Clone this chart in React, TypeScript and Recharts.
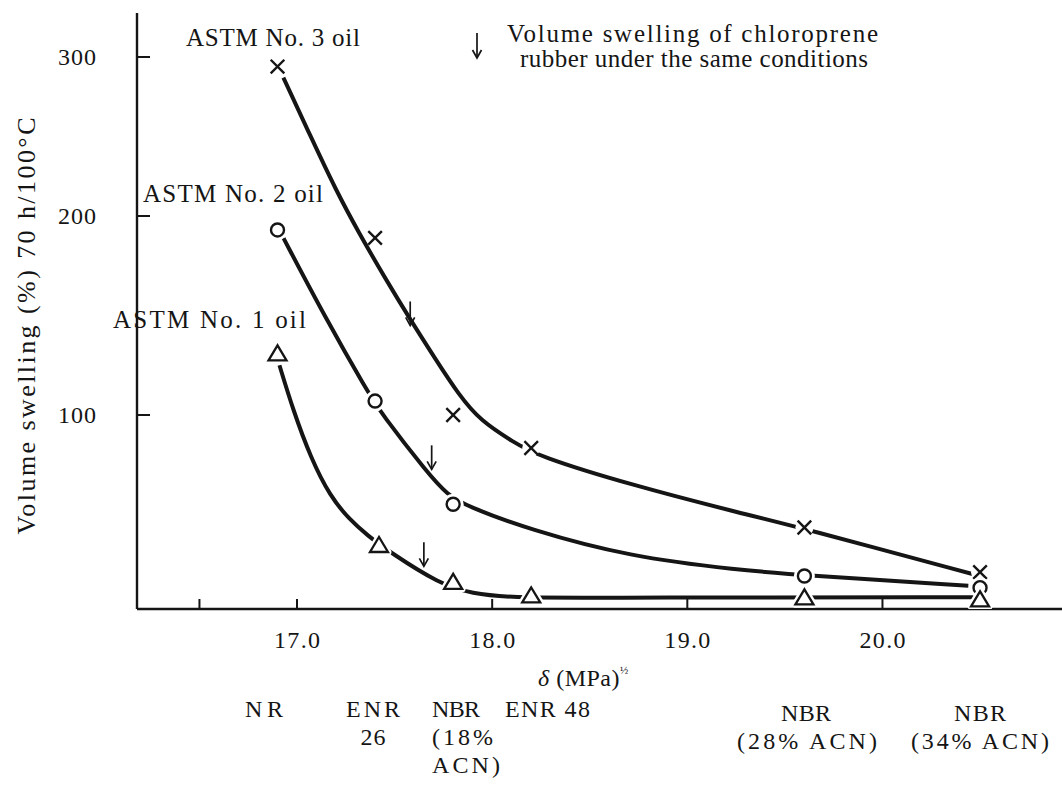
import React from 'react';
import { ComposedChart, Line, Scatter, XAxis, YAxis } from 'recharts';

const INK = '#151515';
const FONT = '"Liberation Serif", "Times New Roman", serif';

// ---- measured points (delta in MPa^1/2, volume swelling in %) ----
const DELTA_OIL3 = [16.9, 17.4, 17.8, 18.2, 19.6, 20.5];
const SWELL_OIL3 = [294, 189, 100, 83, 42, 19];
const DELTA_OIL2 = [16.9, 17.4, 17.8, 19.6, 20.5];
const SWELL_OIL2 = [193, 107, 54, 17, 11];
const DELTA_OIL1 = [16.9, 17.42, 17.8, 18.2, 19.6, 20.5];
const SWELL_OIL1 = [131, 33, 14, 7, 6, 5];

// ---- hand-drawn fitted curves ----
const CURVE3_X = [16.93, 17.07, 17.2, 17.32, 17.45, 17.58, 17.71, 17.83, 17.94, 18.11, 18.23, 18.71, 19.27, 19.58, 20.48];
const CURVE3_Y = [287, 250, 216, 191, 169, 148, 128, 110, 97, 86, 79, 64, 49.5, 42, 17.5];
const CURVE2_X = [16.93, 17.15, 17.36, 17.43, 17.67, 17.77, 17.87, 18.19, 18.7, 19.27, 19.58, 20.44];
const CURVE2_Y = [189, 148, 112, 101, 70, 59, 53, 41, 27, 20, 17.5, 12];
const CURVE1_X = [16.91, 16.98, 17.07, 17.17, 17.27, 17.36, 17.48, 17.73, 17.89, 18.13, 18.71, 20.47];
const CURVE1_Y = [125, 102.5, 78, 58, 46, 38, 29, 13, 8, 5.5, 6, 6];

// ---- chloroprene rubber swelling (arrows) ----
const CR_DELTA = [17.58, 17.69, 17.65];
const CR_SWELL = [145, 72, 22];

// ---- ticks ----
const X_TICKS = [16.5, 17, 18, 19, 20];
const Y_TICKS = [100, 200, 300];

// ---- rubber names under the axis ----
const RUBBER_LABELS = ['NR', 'ENR 26', 'NBR (18% ACN)', 'ENR 48', 'NBR (28% ACN)', 'NBR (34% ACN)'];

const zip = (xs: number[], ys: number[]) => xs.map((x, i) => ({ x, y: ys[i] }));

// The printed y axis is not evenly spaced; reproduce it with a piecewise-linear scale.
const Y_KNOT_VALUES = [0, 100, 200, 300, 328];
const Y_KNOT_FRACS = [0, 0.3255, 0.6594, 0.9262, 1];

function piecewiseScale(kv: number[], kf: number[]): any {
  let dom = [kv[0], kv[kv.length - 1]];
  let rng = [0, 1];
  const frac = (v: number) => {
    const n = kv.length;
    let i = 0;
    if (v <= kv[0]) i = 0;
    else if (v >= kv[n - 1]) i = n - 2;
    else {
      while (i < n - 2 && v > kv[i + 1]) i++;
    }
    return kf[i] + ((v - kv[i]) / (kv[i + 1] - kv[i])) * (kf[i + 1] - kf[i]);
  };
  const s: any = (v: number) => rng[0] + frac(Number(v)) * (rng[rng.length - 1] - rng[0]);
  s.domain = (d?: any) => {
    if (d === undefined) return dom.slice();
    dom = Array.from(d);
    return s;
  };
  s.range = (r?: any) => {
    if (r === undefined) return rng.slice();
    rng = Array.from(r);
    return s;
  };
  s.copy = () => piecewiseScale(kv, kf).domain(dom).range(rng);
  s.ticks = () => kv.slice(1, -1);
  s.tickFormat = () => (v: number) => String(v);
  s.clamp = () => s;
  s.nice = () => s;
  s.invert = (px: number) => {
    const f = (px - rng[0]) / (rng[rng.length - 1] - rng[0]);
    let i = 0;
    while (i < kf.length - 2 && f > kf[i + 1]) i++;
    return kv[i] + ((f - kf[i]) / (kf[i + 1] - kf[i])) * (kv[i + 1] - kv[i]);
  };
  return s;
}

const Y_SCALE = piecewiseScale(Y_KNOT_VALUES, Y_KNOT_FRACS);

const AXIS_X = 137;
const AXIS_Y = 609;

const YTick = (props: any) => {
  const { y, payload } = props;
  return (
    <g>
      <line x1={AXIS_X} x2={AXIS_X + 13} y1={y} y2={y} stroke={INK} strokeWidth={2} />
      <text x={96} y={y + 8} textAnchor="end" fontSize={24} fontFamily={FONT} fill={INK} textLength={38} lengthAdjust="spacing">
        {payload.value}
      </text>
    </g>
  );
};

const XTick = (props: any) => {
  const { x, payload } = props;
  const v = payload.value;
  return (
    <g>
      <line x1={x} x2={x} y1={AXIS_Y} y2={AXIS_Y - 10} stroke={INK} strokeWidth={2} />
      {Number.isInteger(v) ? (
        <text x={x} y={648} textAnchor="middle" fontSize={24} fontFamily={FONT} fill={INK} textLength={46} lengthAdjust="spacing">
          {v.toFixed(1)}
        </text>
      ) : null}
    </g>
  );
};

const CrossShape = (p: any) => {
  const { cx, cy } = p;
  if (cx == null || cy == null) return <g />;
  const d = 6.8;
  return (
    <g>
      <circle cx={cx} cy={cy} r={9} fill="#fff" />
      <path d={`M${cx - d},${cy - d}L${cx + d},${cy + d}M${cx - d},${cy + d}L${cx + d},${cy - d}`} stroke={INK} strokeWidth={2.4} fill="none" />
    </g>
  );
};

const CircleShape = (p: any) => {
  const { cx, cy } = p;
  if (cx == null || cy == null) return <g />;
  return (
    <g>
      <circle cx={cx} cy={cy} r={10.5} fill="#fff" />
      <circle cx={cx} cy={cy} r={6.5} fill="#fff" stroke={INK} strokeWidth={2.4} />
    </g>
  );
};

const TriangleShape = (p: any) => {
  const { cx, cy } = p;
  if (cx == null || cy == null) return <g />;
  const pts = `${cx},${cy - 8} ${cx - 9},${cy + 7} ${cx + 9},${cy + 7}`;
  return (
    <g>
      <polygon points={pts} fill="#fff" stroke="#fff" strokeWidth={7} strokeLinejoin="round" />
      <polygon points={pts} fill="#fff" stroke={INK} strokeWidth={2.3} strokeLinejoin="miter" />
    </g>
  );
};

const ArrowShape = (p: any) => {
  const { cx, cy } = p;
  if (cx == null || cy == null) return <g />;
  return (
    <g stroke={INK} strokeWidth={1.7} fill="none">
      <line x1={cx} y1={cy - 24} x2={cx} y2={cy} />
      <path d={`M${cx - 4.5},${cy - 8}L${cx},${cy}L${cx + 4.5},${cy - 8}`} />
    </g>
  );
};

type TProps = { x: number; y: number; w?: number; size?: number; anchor?: string; children: React.ReactNode };
const T = ({ x, y, w, size = 25, anchor = 'start', children }: TProps) => (
  <text
    x={x}
    y={y}
    fontSize={size}
    fontFamily={FONT}
    fill={INK}
    textAnchor={anchor as any}
    {...(w ? { textLength: w, lengthAdjust: 'spacing' } : {})}
  >
    {children}
  </text>
);

const B = 24; // size of the rubber-name labels

const Overlay = () => (
  <svg width={1062} height={790} style={{ position: 'absolute', left: 0, top: 0, pointerEvents: 'none' }}>
    {/* series labels */}
    <T x={186} y={46} w={174}>ASTM No. 3 oil</T>
    <T x={143} y={202} w={180}>ASTM No. 2 oil</T>
    <T x={113} y={328} w={193}>ASTM No. 1 oil</T>
    {/* chloroprene legend */}
    <g stroke={INK} strokeWidth={1.7} fill="none">
      <line x1={477} y1={33} x2={477} y2={58} />
      <path d="M472.5,50L477,58L481.5,50" />
    </g>
    <T x={507} y={42} w={371}>Volume swelling of chloroprene</T>
    <T x={520} y={67} w={348}>rubber under the same conditions</T>
    {/* axis titles */}
    <text x={538} y={686} fontSize={24} fontFamily={FONT} fill={INK} letterSpacing={0.5}>
      <tspan fontStyle="italic">δ</tspan>
      <tspan> (MPa)</tspan>
      <tspan fontSize={11} dy={-12}>½</tspan>
    </text>
    <text
      transform="translate(35,326) rotate(-90)"
      x={0}
      y={0}
      textAnchor="middle"
      fontSize={26}
      fontFamily={FONT}
      fill={INK}
      textLength={417}
      lengthAdjust="spacing"
    >
      Volume swelling (%) 70 h/100°C
    </text>
    {/* rubber names */}
    <T x={264} y={717} w={38} size={B} anchor="middle">{RUBBER_LABELS[0]}</T>
    <T x={373} y={717} w={54} size={B} anchor="middle">ENR</T>
    <T x={373} y={745} w={25} size={B} anchor="middle">26</T>
    <T x={432} y={717} w={48} size={B}>NBR</T>
    <T x={432} y={745} w={61} size={B}>(18%</T>
    <T x={432} y={773} w={68} size={B}>ACN)</T>
    <T x={505} y={717} w={85} size={B}>{RUBBER_LABELS[3]}</T>
    <T x={806} y={721} w={50} size={B} anchor="middle">NBR</T>
    <T x={807} y={749} w={140} size={B} anchor="middle">(28% ACN)</T>
    <T x={980} y={721} w={52} size={B} anchor="middle">NBR</T>
    <T x={980} y={749} w={138} size={B} anchor="middle">(34% ACN)</T>
  </svg>
);

export default function App() {
  return (
    <div style={{ position: 'absolute', left: 0, top: 0, width: 1062, height: 790, background: '#fff' }}>
      <ComposedChart width={1062} height={790} margin={{ top: 13, right: 0, bottom: 141, left: 0 }}>
        <XAxis
          type="number"
          dataKey="x"
          domain={[16.18, 20.92]}
          allowDataOverflow
          ticks={X_TICKS}
          tick={<XTick />}
          tickLine={false}
          axisLine={{ stroke: INK, strokeWidth: 2.4 }}
          height={40}
          interval={0}
        />
        <YAxis
          type="number"
          dataKey="y"
          domain={[0, 328]}
          allowDataOverflow
          scale={Y_SCALE}
          ticks={Y_TICKS}
          tick={<YTick />}
          tickLine={false}
          axisLine={{ stroke: INK, strokeWidth: 2.4 }}
          width={137}
          interval={0}
        />
        <Line data={zip(CURVE3_X, CURVE3_Y)} dataKey="y" type="basis" stroke={INK} strokeWidth={4} dot={false} activeDot={false} isAnimationActive={false} />
        <Line data={zip(CURVE2_X, CURVE2_Y)} dataKey="y" type="basis" stroke={INK} strokeWidth={4} dot={false} activeDot={false} isAnimationActive={false} />
        <Line data={zip(CURVE1_X, CURVE1_Y)} dataKey="y" type="basis" stroke={INK} strokeWidth={4} dot={false} activeDot={false} isAnimationActive={false} />
        <Scatter data={zip(DELTA_OIL3, SWELL_OIL3)} dataKey="y" shape={CrossShape} isAnimationActive={false} />
        <Scatter data={zip(DELTA_OIL2, SWELL_OIL2)} dataKey="y" shape={CircleShape} isAnimationActive={false} />
        <Scatter data={zip(DELTA_OIL1, SWELL_OIL1)} dataKey="y" shape={TriangleShape} isAnimationActive={false} />
        <Scatter data={zip(CR_DELTA, CR_SWELL)} dataKey="y" shape={ArrowShape} isAnimationActive={false} />
      </ComposedChart>
      <Overlay />
    </div>
  );
}
